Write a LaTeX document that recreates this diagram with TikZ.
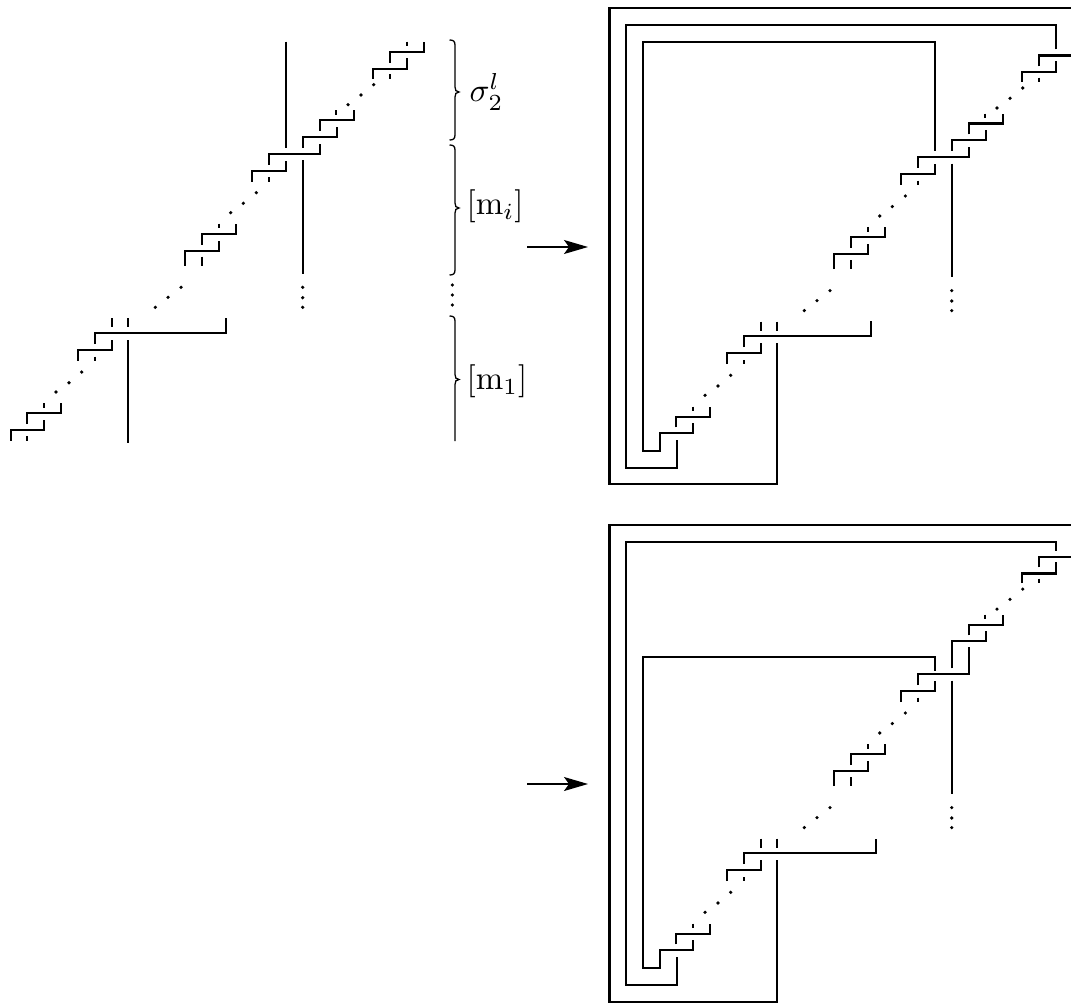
\documentclass[tikz,border=0pt]{standalone}
\usetikzlibrary{arrows.meta}
\tikzset{
  wire/.style={line width=2.2pt,line cap=butt,miter limit=10},
  bracepath/.style={line width=1.3pt},
  dotmark/.style={fill=black,draw=none},
  lab/.style={inner sep=0pt,scale=3.3},
  maparrow/.style={line width=1.3pt,-{Stealth[length=24pt,width=14pt,inset=5pt]}}
}
\newcommand{\dotsat}[1]{\foreach \p in {#1} {\fill[dotmark] \p circle (1.8);}}
% lower block: hook b, hook c, ticks, dots (left-diagram coordinates)
\newcommand{\blockA}{%
  \draw[wire] (27.3,424)--(27.3,413.3)--(61.3,413.3)--(61.3,403.3);
  \draw[wire] (44.3,403.3)--(44.3,407.5);
  \dotsat{(56,392),(69,382.7),(81.7,372)}
  \draw[wire] (77.7,360.7)--(77.7,350)--(111.7,350)--(111.7,340);
  \draw[wire] (94.7,356.7)--(94.7,361);
  \draw[wire] (111.7,318.3)--(111.7,327.3);
  \draw[wire] (128.3,318.3)--(128.3,327.3);
  \dotsat{(155.3,307.3),(168,297.3),(181,287.3)}
  \dotsat{(302.7,287.3),(302.7,297.7),(302.7,307.3)}
}
% middle block: hooks 1--3
\newcommand{\blockB}{%
  \draw[wire] (185,265.7)--(185,250.7)--(219,250.7)--(219,240.7);
  \draw[wire] (202,256.7)--(202,265.7);
  \draw[wire] (202,244.7)--(202,234)--(235.7,234)--(235.7,223.7);
  \draw[wire] (218.7,223.7)--(218.7,228.3);
  \dotsat{(230.7,212.7),(243.3,203.3),(256.3,192.7)}
  \draw[wire] (252,181.7)--(252,171)--(286.3,171)--(286.3,160.7);
  \draw[wire] (269.3,177.3)--(269.3,182);
  \draw[wire] (302.7,160.3)--(302.7,273.7);
}
% upper block: hooks 6--8
\newcommand{\blockC}{%
  \draw[wire] (319.7,131)--(319.7,120.3)--(353.7,120.3)--(353.7,110.3);
  \draw[wire] (336.3,110.3)--(336.3,115);
  \dotsat{(348,104.7),(361,95),(373.7,84.7)}
  \draw[wire] (373,78.7)--(373,69)--(407.3,69)--(407.3,58);
  \draw[wire] (390,74.3)--(390,78.7);
  \draw[wire] (390,63)--(390,52.3)--(424,52.3)--(424,42);
}
\begin{document}
\begin{tikzpicture}[x=1pt,y=-1pt]
\useasboundingbox (0,0) rectangle (1071,1003);
\clip (0,0) rectangle (1071,1003);

% ===== left diagram =====
\draw[wire] (10.7,440.7)--(10.7,430)--(44.3,430)--(44.3,420);
\draw[wire] (27.3,436)--(27.3,440.7);
\blockA
\draw[wire] (94.7,344)--(94.7,333)--(225.7,333)--(225.7,318.3);
\draw[wire] (128.3,340)--(128.3,443);
\blockB
\draw[wire] (269.3,164.7)--(269.3,154)--(320.3,154)--(320.3,143.7);
\draw[wire] (302.7,148)--(302.7,137)--(336.7,137)--(336.7,127);
\draw[wire] (286.3,41.7)--(286.3,148);
\blockC
\draw[wire] (407,41.7)--(407,46);

% braces
\draw[bracepath] (449.5,40) .. controls (453,40) and (455,41) .. (455,45) -- (455,87)
  .. controls (455,90) and (456,92) .. (459,92) .. controls (456,92) and (455,94) .. (455,97)
  -- (455,135) .. controls (455,139) and (453,140) .. (449.5,140);
\draw[bracepath] (449.5,145) .. controls (453,145) and (455,146) .. (455,150) -- (455,203)
  .. controls (455,206) and (456,208) .. (459,208) .. controls (456,208) and (455,210) .. (455,213)
  -- (455,270) .. controls (455,274) and (453,275) .. (449.5,275);
\draw[bracepath] (449.5,316) .. controls (453,316) and (455,317) .. (455,321) -- (455,374.5)
  .. controls (455,377.5) and (456,379.5) .. (459,379.5) .. controls (456,379.5) and (455,381.5) .. (455,384.5)
  -- (455,441);
\dotsat{(452.3,285),(452.3,295),(452.3,305)}
\node[lab,anchor=west] (sigma) at (469,92) {$\sigma_2^l$};
\node[lab,anchor=west] (mi) at (466,206) {$[\mathrm{m}_i]$};
\node[lab,anchor=west] (mone) at (466,381) {$[\mathrm{m}_1]$};

% arrows
\coordinate (a1) at (527,247); \coordinate (a2) at (588,247);
\coordinate (b1) at (527,784); \coordinate (b2) at (588,784);
\draw[maparrow] (a1)--(a2);
\draw[maparrow] (b1)--(b2);

% ===== upper right diagram =====
\begin{scope}[shift={(649,3.3)}]
  \blockA \blockB \blockC
  \draw[wire] (269.3,164.4)--(269.3,153.6)--(320,153.6)--(320,143.4);
  \draw[wire] (302.7,147.7)--(302.7,137)--(336.7,137)--(336.7,126.7);
\end{scope}
\draw[wire] (777.3,343.3)--(777.3,483.7)--(609.5,483.7)--(609.5,8.3)--(1075,8.3);
\draw[wire] (743.7,347)--(743.7,336.3)--(871.3,336.3)--(871.3,321.3);
\draw[wire] (1056,49.3)--(1056,25)--(626,25)--(626,467.7)--(676.7,467.7)--(676.7,440);
\draw[wire] (935.3,151)--(935.3,42.3)--(643,42.3)--(643,451)--(660,451)--(660,433.3)--(693.3,433.3)--(693.3,423.3);

% ===== lower right diagram =====
\begin{scope}[shift={(649,520.3)}]
  \blockA \blockB
\end{scope}
\begin{scope}[shift={(649,504.4)}]
  \blockC
\end{scope}
\draw[wire] (918.3,685)--(918.3,674.3)--(969,674.3)--(969,647.3);
\draw[wire] (951.7,668.3)--(951.7,641.3)--(985.7,641.3)--(985.7,631);
\draw[wire] (777.3,860)--(777.3,1001.7)--(609.5,1001.7)--(609.5,525.3)--(1075,525.3);
\draw[wire] (743.7,864)--(743.7,853.3)--(876,853.3)--(876,839);
\draw[wire] (1056,550.7)--(1056,542.3)--(626,542.3)--(626,984.7)--(676.7,984.7)--(676.7,956.7);
\draw[wire] (935.3,670.7)--(935.3,657)--(643,657)--(643,967.7)--(660,967.7)--(660,950.3)--(693.3,950.3)--(693.3,940);
\end{tikzpicture}
\end{document}
